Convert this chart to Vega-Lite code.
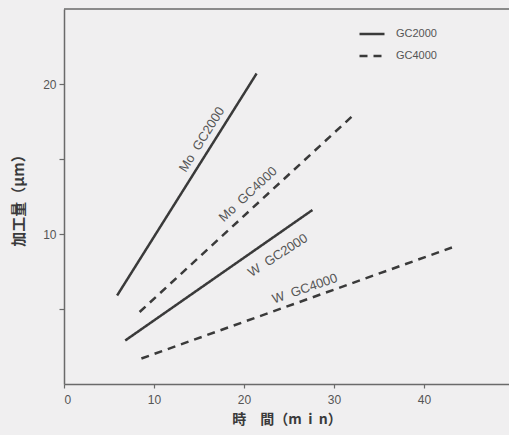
{
  "$schema": "https://vega.github.io/schema/vega-lite/v6.json",
  "width": 445,
  "height": 375,
  "autosize": "none",
  "padding": {"left": 64, "top": 9, "right": 0, "bottom": 51},
  "background": "#f0eff0",
  "config": {
    "view": {"stroke": null},
    "font": "Liberation Sans",
    "text": {"fontSize": 13, "color": "#555555", "font": "Liberation Sans", "baseline": "alphabetic", "align": "center"},
    "axis": {
      "domainColor": "#6a6a6a",
      "domainWidth": 1.5,
      "tickColor": "#6a6a6a",
      "tickWidth": 1.2,
      "grid": false,
      "labelFont": "Liberation Sans",
      "labelFontSize": 12,
      "labelColor": "#555555",
      "titleFont": "Noto Sans CJK JP",
      "titleFontSize": 14,
      "titleFontWeight": "bold",
      "titleColor": "#3a3a3a"
    }
  },
  "datasets": {
    "lines": [
      {"series": "Mo GC2000", "grade": "GC2000", "time": 5.9, "amount": 5.9},
      {"series": "Mo GC2000", "grade": "GC2000", "time": 21.4, "amount": 20.7},
      {"series": "Mo GC4000", "grade": "GC4000", "time": 8.4, "amount": 4.8},
      {"series": "Mo GC4000", "grade": "GC4000", "time": 32.1, "amount": 17.9},
      {"series": "W GC2000", "grade": "GC2000", "time": 6.8, "amount": 2.9},
      {"series": "W GC2000", "grade": "GC2000", "time": 27.6, "amount": 11.6},
      {"series": "W GC4000", "grade": "GC4000", "time": 8.6, "amount": 1.7},
      {"series": "W GC4000", "grade": "GC4000", "time": 43.1, "amount": 9.1}
    ],
    "labels": [
      {"series": "Mo GC2000", "label": "Mo\u00a0 GC2000", "time": 15.7, "amount": 16.15},
      {"series": "Mo GC4000", "label": "Mo\u00a0 GC4000", "time": 20.75, "amount": 12.45},
      {"series": "W GC2000", "label": "W\u00a0 GC2000", "time": 24.0, "amount": 8.35},
      {"series": "W GC4000", "label": "W\u00a0 GC4000", "time": 26.9, "amount": 6.1}
    ],
    "frame": [{"top": 25}]
  },
  "layer": [
    {
      "data": {"name": "lines"},
      "mark": {"type": "line", "strokeWidth": 2.5, "color": "#3a3a3a"},
      "encoding": {
        "x": {
          "field": "time", "type": "quantitative",
          "scale": {"domain": [0, 49.44], "nice": false, "zero": false},
          "axis": {
            "values": [0, 10, 20, 30, 40],
            "tickSize": 4,
            "labelPadding": 6,
            "title": "時　間（m\u00a0\u00a0i\u00a0\u00a0n）",
            "titlePadding": 7
          }
        },
        "y": {
          "field": "amount", "type": "quantitative",
          "scale": {"domain": [0, 25], "nice": false},
          "axis": {
            "values": [5, 10, 15, 20],
            "labelExpr": "datum.value % 10 === 0 ? datum.label : ''",
            "tickSize": 5,
            "labelPadding": 3,
            "title": "加工量（μm）",
            "titlePadding": 16,
            "titleFontSize": 15
          }
        },
        "detail": {"field": "series"},
        "strokeDash": {
          "field": "grade", "type": "nominal",
          "scale": {"domain": ["GC2000", "GC4000"], "range": [[1, 0], [8, 6]]},
          "legend": {
            "orient": "none",
            "legendX": 294,
            "legendY": 19,
            "title": null,
            "symbolType": "stroke",
            "symbolSize": 625,
            "symbolStrokeWidth": 2.5,
            "symbolStrokeColor": "#3a3a3a",
            "labelFontSize": 11,
            "labelColor": "#555555",
            "labelOffset": 10,
            "clipHeight": 12,
            "rowPadding": 10
          }
        }
      }
    },
    {
      "data": {"name": "labels"},
      "transform": [{"filter": "datum.series === 'Mo GC2000'"}],
      "mark": {"type": "text", "angle": 302},
      "encoding": {
        "x": {"field": "time", "type": "quantitative"},
        "y": {"field": "amount", "type": "quantitative"},
        "text": {"field": "label"}
      }
    },
    {
      "data": {"name": "labels"},
      "transform": [{"filter": "datum.series === 'Mo GC4000'"}],
      "mark": {"type": "text", "angle": 317},
      "encoding": {
        "x": {"field": "time", "type": "quantitative"},
        "y": {"field": "amount", "type": "quantitative"},
        "text": {"field": "label"}
      }
    },
    {
      "data": {"name": "labels"},
      "transform": [{"filter": "datum.series === 'W GC2000'"}],
      "mark": {"type": "text", "angle": 327},
      "encoding": {
        "x": {"field": "time", "type": "quantitative"},
        "y": {"field": "amount", "type": "quantitative"},
        "text": {"field": "label"}
      }
    },
    {
      "data": {"name": "labels"},
      "transform": [{"filter": "datum.series === 'W GC4000'"}],
      "mark": {"type": "text", "angle": 341},
      "encoding": {
        "x": {"field": "time", "type": "quantitative"},
        "y": {"field": "amount", "type": "quantitative"},
        "text": {"field": "label"}
      }
    },
    {
      "data": {"name": "frame"},
      "mark": {"type": "rule", "color": "#6a6a6a", "strokeWidth": 1.5},
      "encoding": {"y": {"field": "top", "type": "quantitative"}}
    }
  ]
}
